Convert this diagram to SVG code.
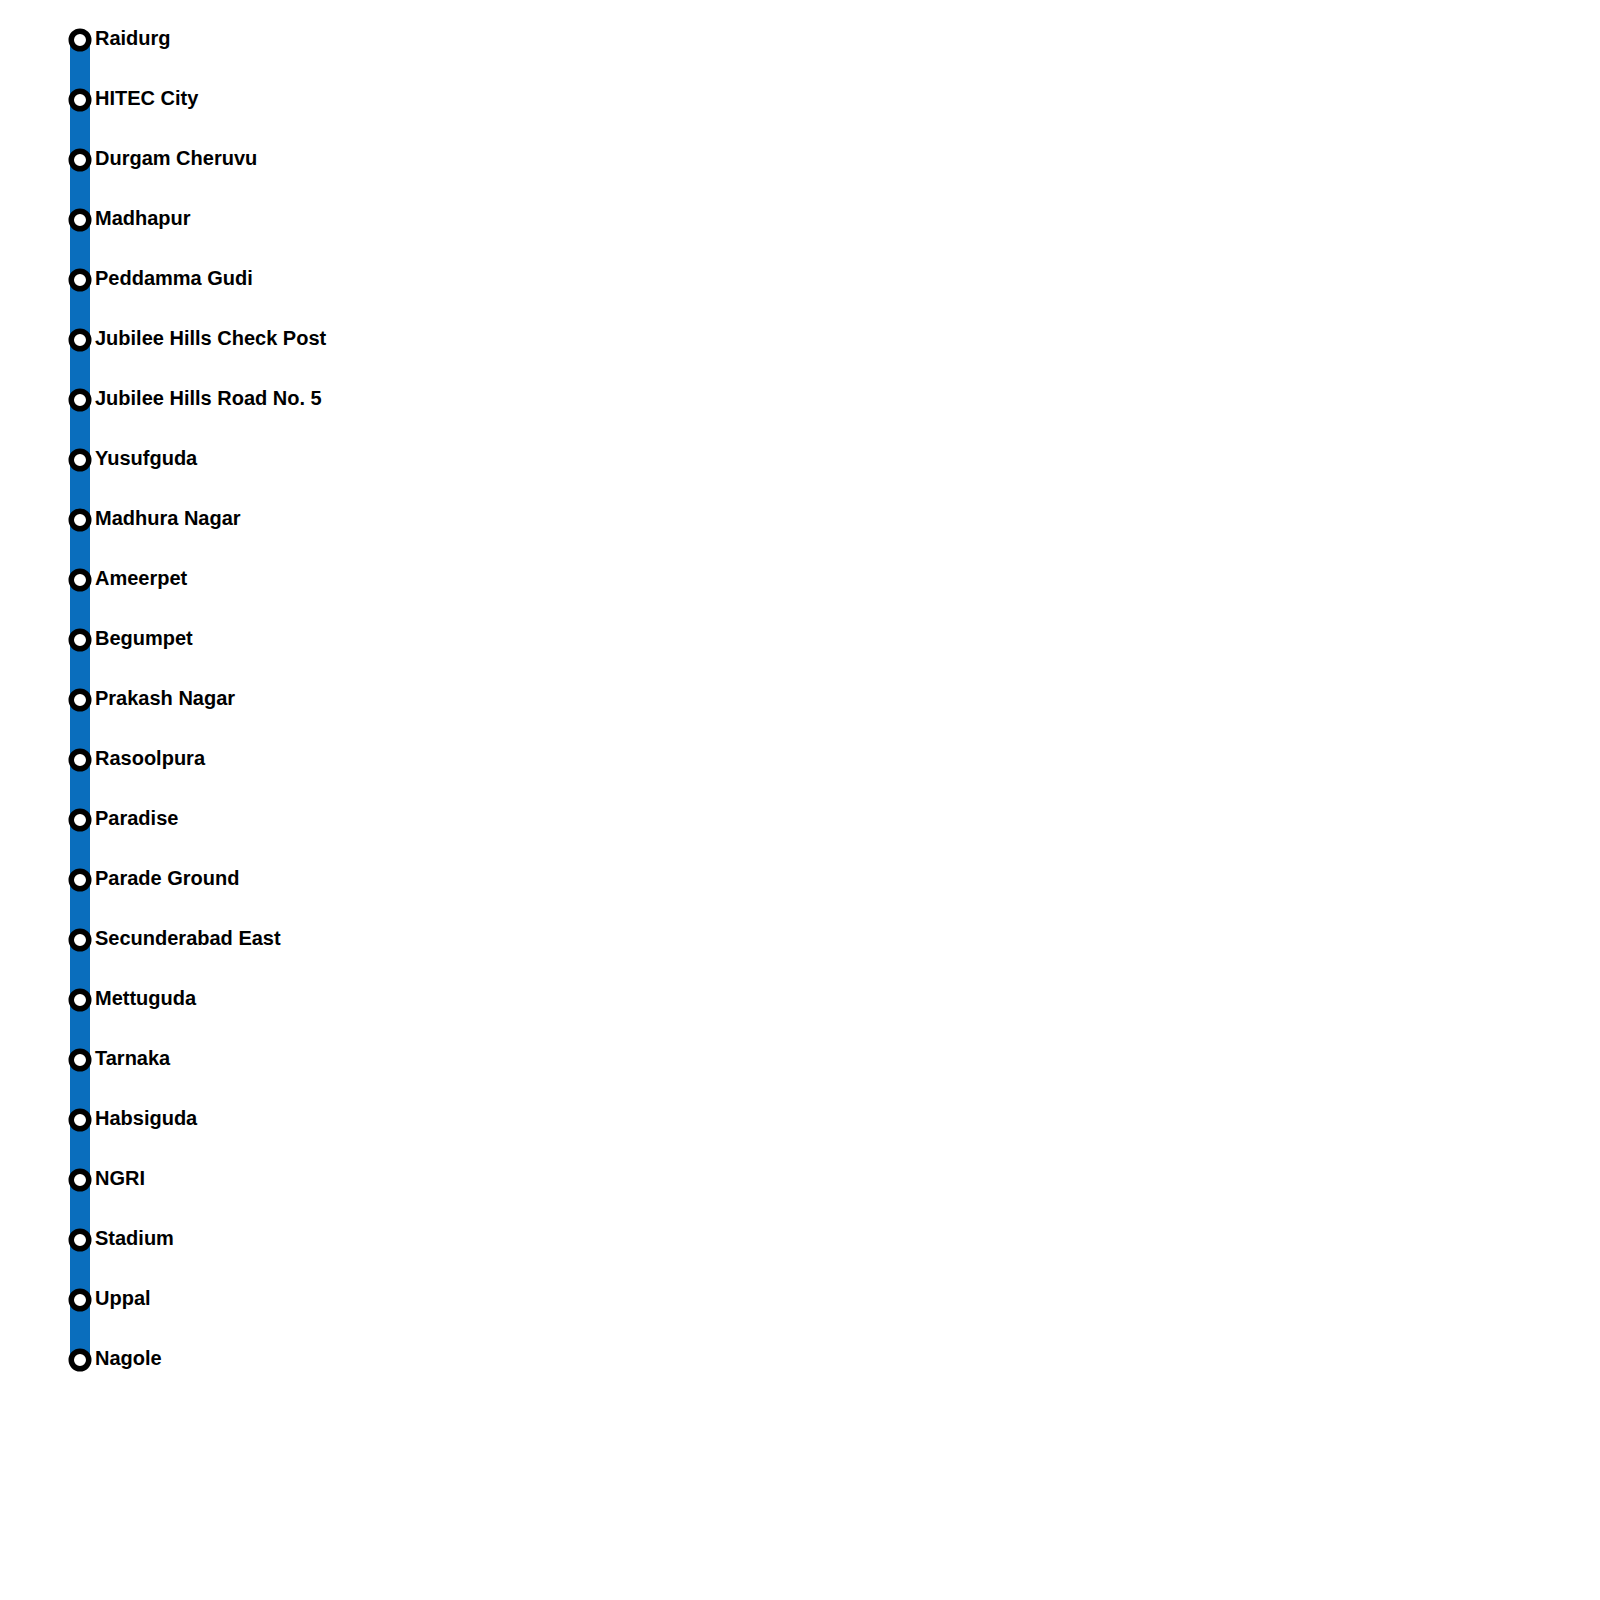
<svg xmlns="http://www.w3.org/2000/svg" width="1600" height="1600" viewBox="0 0 1600 1600">
<style>
.st circle{fill:#fff;stroke:#000;stroke-width:5.5}
.st text{font-family:"Liberation Sans",Arial,sans-serif;font-weight:bold;font-size:20px;fill:#000}
</style>
<rect width="1600" height="1600" fill="#fff"/>
<g id="connectors"><line x1="80" y1="40" x2="80" y2="1360" stroke="#0a6ebd" stroke-width="20"/></g>
<g id="s1" class="st"><circle cx="80" cy="40" r="8.75"/><text x="95" y="45">Raidurg</text></g>
<g id="s2" class="st"><circle cx="80" cy="100" r="8.75"/><text x="95" y="105">HITEC City</text></g>
<g id="s3" class="st"><circle cx="80" cy="160" r="8.75"/><text x="95" y="165">Durgam Cheruvu</text></g>
<g id="s4" class="st"><circle cx="80" cy="220" r="8.75"/><text x="95" y="225">Madhapur</text></g>
<g id="s5" class="st"><circle cx="80" cy="280" r="8.75"/><text x="95" y="285">Peddamma Gudi</text></g>
<g id="s6" class="st"><circle cx="80" cy="340" r="8.75"/><text x="95" y="345">Jubilee Hills Check Post</text></g>
<g id="s7" class="st"><circle cx="80" cy="400" r="8.75"/><text x="95" y="405">Jubilee Hills Road No. 5</text></g>
<g id="s8" class="st"><circle cx="80" cy="460" r="8.75"/><text x="95" y="465">Yusufguda</text></g>
<g id="s9" class="st"><circle cx="80" cy="520" r="8.75"/><text x="95" y="525">Madhura Nagar</text></g>
<g id="s10" class="st"><circle cx="80" cy="580" r="8.75"/><text x="95" y="585">Ameerpet</text></g>
<g id="s11" class="st"><circle cx="80" cy="640" r="8.75"/><text x="95" y="645">Begumpet</text></g>
<g id="s12" class="st"><circle cx="80" cy="700" r="8.75"/><text x="95" y="705">Prakash Nagar</text></g>
<g id="s13" class="st"><circle cx="80" cy="760" r="8.75"/><text x="95" y="765">Rasoolpura</text></g>
<g id="s14" class="st"><circle cx="80" cy="820" r="8.75"/><text x="95" y="825">Paradise</text></g>
<g id="s15" class="st"><circle cx="80" cy="880" r="8.75"/><text x="95" y="885">Parade Ground</text></g>
<g id="s16" class="st"><circle cx="80" cy="940" r="8.75"/><text x="95" y="945">Secunderabad East</text></g>
<g id="s17" class="st"><circle cx="80" cy="1000" r="8.75"/><text x="95" y="1005">Mettuguda</text></g>
<g id="s18" class="st"><circle cx="80" cy="1060" r="8.75"/><text x="95" y="1065">Tarnaka</text></g>
<g id="s19" class="st"><circle cx="80" cy="1120" r="8.75"/><text x="95" y="1125">Habsiguda</text></g>
<g id="s20" class="st"><circle cx="80" cy="1180" r="8.75"/><text x="95" y="1185">NGRI</text></g>
<g id="s21" class="st"><circle cx="80" cy="1240" r="8.75"/><text x="95" y="1245">Stadium</text></g>
<g id="s22" class="st"><circle cx="80" cy="1300" r="8.75"/><text x="95" y="1305">Uppal</text></g>
<g id="s23" class="st"><circle cx="80" cy="1360" r="8.75"/><text x="95" y="1365">Nagole</text></g>
</svg>
